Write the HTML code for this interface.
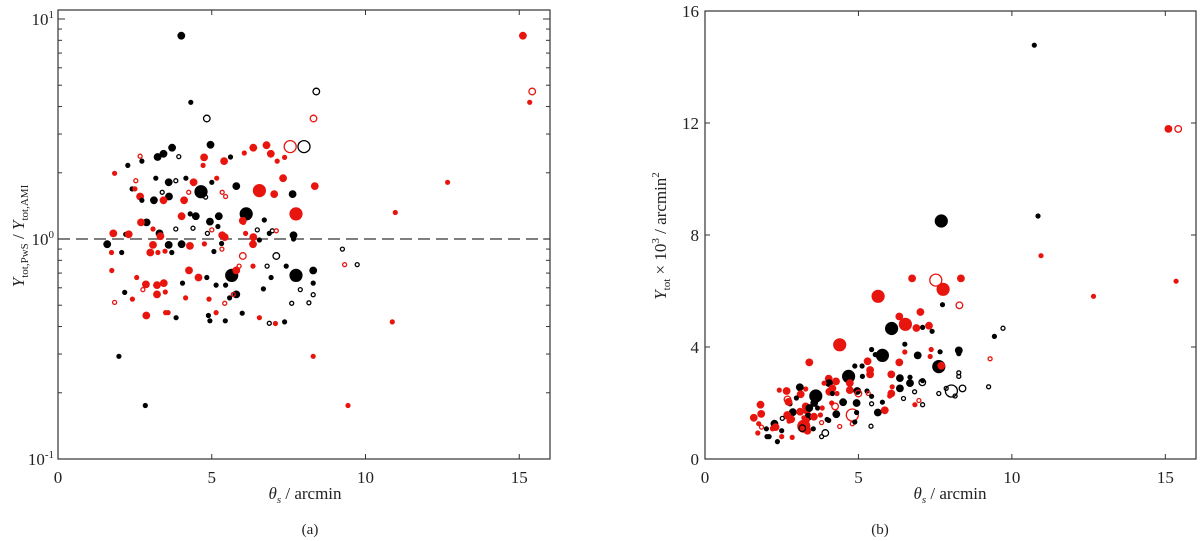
<!DOCTYPE html>
<html><head><meta charset="utf-8"><style>
body{margin:0;background:#fff;width:1200px;height:541px;overflow:hidden}
svg{display:block}
text{font-family:"Liberation Serif",serif;fill:#222}
</style></head><body>
<svg id="fig" width="1200" height="541" viewBox="0 0 1200 541" xmlns="http://www.w3.org/2000/svg"></svg>
<script>
// kinds: s/m/L = small/medium/large filled; so/mo/Lo = open. colors: r red, k black
const leftX=[4.01,4.32,4.84,8.40,8.31,15.12,15.42,15.34,7.55,8.0,6.78,6.35,6.92,6.06,4.96,5.61,5.40,4.75,4.72,7.37,7.13,3.71,3.43,3.24,3.93,2.67,2.73,2.27,1.84,3.18,2.53,2.41,2.5,3.6,3.83,4.16,4.41,4.65,4.80,5.0,5.16,5.34,5.45,5.80,6.55,7.03,7.63,7.32,8.35,12.67,4.25,3.39,3.61,2.67,2.73,3.12,3.43,4.1,6.12,7.74,5.23,4.48,4.30,4.02,4.94,6.01,6.71,10.97,5.2,6.03,2.88,2.70,3.09,1.80,2.2,2.3,3.3,3.33,3.83,4.39,4.86,5.0,5.34,5.42,6.1,6.35,6.48,6.87,6.97,7.1,7.66,7.66,1.60,1.74,2.07,3.0,3.25,3.09,3.6,3.7,3.48,4.02,4.29,4.76,5.07,5.32,5.33,6.34,6.55,9.25,6.01,7.1,9.32,9.73,1.75,2.56,4.26,4.57,4.84,5.65,5.80,5.89,6.34,6.80,6.93,7.42,7.74,8.3,8.3,7.88,8.3,8.16,7.6,6.68,5.8,5.58,5.70,5.45,5.14,4.91,4.05,4.15,5.42,3.49,3.44,3.22,3.22,2.86,2.76,2.17,2.42,1.84,2.87,3.5,3.58,3.84,4.89,5.14,4.94,5.44,5.99,6.55,6.87,7.07,7.37,10.87,1.98,8.3,2.84,9.43];
const leftY=[8.4,4.18,3.53,4.68,3.53,8.4,4.68,4.18,2.63,2.63,2.67,2.6,2.44,2.46,2.68,2.36,2.26,2.35,2.16,2.35,2.26,2.6,2.44,2.36,2.37,2.38,2.26,2.16,1.99,1.89,1.84,1.69,1.69,1.81,1.84,1.89,1.81,1.64,1.55,1.81,1.89,1.63,1.56,1.74,1.66,1.6,1.6,1.89,1.74,1.81,1.63,1.63,1.56,1.56,1.5,1.5,1.5,1.5,1.30,1.30,1.27,1.27,1.30,1.27,1.2,1.21,1.22,1.32,1.14,1.19,1.19,1.19,1.11,1.06,1.05,1.05,1.06,1.03,1.11,1.12,1.06,1.10,1.04,1.02,1.06,1.02,1.10,1.06,1.09,1.09,1.04,1.0,0.947,0.868,0.868,0.868,0.868,0.94,0.94,0.868,0.88,0.947,0.93,0.95,0.877,0.954,0.90,0.947,0.99,0.90,0.837,0.837,0.765,0.765,0.719,0.668,0.72,0.668,0.668,0.683,0.72,0.753,0.753,0.753,0.668,0.753,0.683,0.719,0.63,0.589,0.558,0.513,0.51,0.593,0.56,0.54,0.56,0.617,0.617,0.533,0.63,0.54,0.51,0.574,0.63,0.617,0.56,0.622,0.589,0.572,0.533,0.515,0.449,0.463,0.463,0.439,0.449,0.463,0.425,0.425,0.46,0.439,0.414,0.413,0.42,0.42,0.293,0.293,0.175,0.175];
const leftC="kkkkrrrrrkrrrrkkrrrrrkkkkrkkrkrkrkkkrkkkrrrkrrkrrrrkkrkkrrkrkkkrkrkrkrkrrrkrkrkkkrrrrrkkkrkkkrkrrrkkrkrrkkrrkkrkrkrrrrkkrrrkkkkkkkkkkkkkrkkrkrrrrrrrrkrrrrrkkrkkkrkrkrkrkrk";
const leftK=["m","s","mo","mo","mo","m","mo","s","Lo","Lo","m","m","m","s","m","s","m","m","s","s","s","m","m","m","so","so","s","s","s","s","so","s","s","m","so","s","m","L","so","s","s","so","so","m","L","m","m","m","m","s","so","so","m","m","s","m","m","m","L","L","m","m","s","m","m","m","s","s","s","s","m","m","s","m","s","m","m","m","so","so","so","so","m","m","s","m","so","s","so","so","m","s","m","s","s","m","s","m","m","s","s","m","m","s","s","s","so","m","s","so","mo","mo","so","so","s","s","m","m","s","L","m","so","s","so","s","s","L","m","s","so","so","so","so","s","m","s","so","s","s","s","s","s","so","s","m","m","m","m","so","s","s","so","m","s","s","s","s","s","s","s","s","s","so","s","s","s","s","s","s","s"];

const rightX=[10.73,15.1,15.42,10.85,7.70,10.95,15.35,12.66,6.75,7.52,7.76,8.34,8.29,7.74,5.64,7.02,6.33,6.08,6.53,6.89,7.09,7.3,7.4,9.71,9.43,4.39,5.43,5.55,5.78,6.51,6.51,7.37,7.66,8.27,8.27,6.93,7.34,9.29,3.40,6.33,5.30,4.88,5.12,7.62,7.70,4.68,5.38,5.38,5.13,6.35,6.68,6.07,8.27,8.27,4.03,4.27,4.04,4.72,4.72,4.96,5.0,5.28,5.32,5.43,6.1,6.35,6.68,6.83,7.08,7.09,6.07,6.02,6.47,6.97,7.09,6.84,7.62,8.03,8.15,8.39,9.24,7.86,4.15,4.05,4.3,3.88,4.15,4.5,4.94,4.13,4.24,4.28,4.03,4.8,4.94,4.8,4.88,5.78,5.82,5.63,5.86,5.43,5.41,4.39,3.92,3.8,3.61,3.56,3.67,3.82,3.76,3.8,3.98,3.28,3.09,3.12,2.98,2.77,2.86,3.1,3.28,3.32,3.4,3.37,3.22,3.33,3.55,3.22,3.34,3.53,3.17,2.42,2.66,2.69,2.72,2.68,2.81,2.52,2.74,2.26,2.3,2.2,2.5,2.5,2.36,2.09,2.84,1.81,1.83,1.59,1.75,1.84,1.72,2.0,2.2,2.02,2.67];
const rightY=[14.78,11.79,11.79,8.68,8.50,7.26,6.35,5.81,6.45,6.39,6.06,6.45,5.49,5.51,5.81,5.25,5.09,4.66,4.81,4.68,4.7,4.76,4.56,4.67,4.38,4.08,3.91,3.73,3.70,4.10,3.82,3.91,3.83,3.88,3.76,3.70,3.66,3.58,3.45,3.45,3.49,3.32,3.32,3.30,3.33,2.95,3.18,3.02,2.95,2.89,2.92,3.02,3.08,2.95,2.87,2.77,2.71,2.71,2.46,2.43,2.34,2.43,2.34,2.24,2.58,2.52,2.71,2.4,2.74,2.8,2.34,2.25,2.16,2.09,1.94,1.94,2.34,2.43,2.25,2.52,2.58,2.52,2.52,2.4,2.34,2.71,2.34,2.03,2.0,2.0,1.88,1.6,1.38,1.57,1.66,1.26,1.32,2.03,1.72,1.66,1.74,1.97,1.17,1.16,0.93,0.8,2.25,2.0,1.82,1.82,1.57,1.3,1.41,2.5,2.56,2.31,2.18,1.97,1.67,1.69,1.88,1.72,1.82,1.51,1.47,1.38,1.51,1.17,1.01,1.08,1.1,2.46,2.43,2.13,2.04,1.57,1.42,1.45,1.35,1.26,1.14,1.1,1.01,0.8,0.62,0.8,0.77,1.94,1.61,1.47,1.26,1.14,0.93,1.08,1.08,0.8,1.5];
const rightC="krrkkrrrrrrrrkrrrkrrkrkkkrkkkkrrkkkkrrrrrkkkrkrrkkkrkkrrkrrkrkrkrkkkkkrrkrkrkkkkkkrrrrkkkrrkkrkrkkrkrkkrkkkkkrrrkrkrkkkrrrkkrrrrrkkrrrrrrkrkrrkrkkrrrrrrrkrkrr";
const rightK=["s","m","mo","s","L","s","s","s","m","Lo","L","m","mo","s","L","m","m","L","L","m","s","m","s","so","s","L","s","s","L","s","s","s","s","m","s","m","s","so","m","m","m","s","s","L","m","L","m","m","s","m","s","m","so","so","m","m","m","m","m","m","mo","s","so","s","s","m","m","so","mo","s","m","s","so","so","so","s","so","Lo","so","mo","so","so","m","m","s","s","s","m","m","s","mo","m","s","Lo","s","so","s","s","s","m","m","so","so","so","mo","so","L","m","s","s","s","so","s","s","m","m","s","s","m","m","m","m","m","m","s","s","m","L","m","s","mo","s","m","mo","m","m","m","so","s","m","m","s","s","s","s","s","s","m","m","m","s","so","s","s","s","s","s"];

const xTicks=[0,5,10,15];
const rightYTicks=[0,4,8,12,16];
const leftYDecades=[-1,0,1];

const svg=document.getElementById('fig');
const NS='http://www.w3.org/2000/svg';
function mk(tag,attrs,parent){const e=document.createElementNS(NS,tag);for(const k in attrs)e.setAttribute(k,attrs[k]);(parent||svg).appendChild(e);return e;}
const R={s:2.6,m:3.9,L:6.6};
function drawPoints(g,xs,ys,cs,ks,sx,sy,name){
  for(let i=0;i<xs.length;i++){
    const k=ks[i]||'s',open=k.endsWith('o'),sz=R[k[0]];
    const col=cs[i]==='r'?'#e8150f':'#000';
    const c=mk('circle',{cx:sx(xs[i]).toFixed(1),cy:sy(ys[i]).toFixed(1),r:open?sz-0.6:sz,fill:open?'none':col,stroke:open?col:'none','stroke-width':open?1.3:0},g);
    
    
  }
}
function frame(g,x0,x1,y0,y1){
  const r=mk('rect',{x:x0,y:y0,width:x1-x0,height:y1-y0,fill:'none',stroke:'#333','stroke-width':1.2},g);
  
  
}
// LEFT
const L={x0:58,x1:550,y0:10,y1:459};
const lsx=v=>L.x0+v/16*(L.x1-L.x0);
const lsy=v=>239-Math.log10(v)*220;
const gl=mk('g',{});


frame(gl,L.x0,L.x1,L.y0,L.y1);
xTicks.forEach(t=>{const x=lsx(t);
  mk('line',{x1:x,x2:x,y1:L.y1,y2:L.y1-5,stroke:'#333'},gl);mk('line',{x1:x,x2:x,y1:L.y0,y2:L.y0+5,stroke:'#333'},gl);
  const tx=mk('text',{x:x,y:483,'font-size':17,'text-anchor':'middle'},gl);tx.textContent=t;
  
  });
leftYDecades.forEach(d=>{const y=lsy(Math.pow(10,d));
  mk('line',{x1:L.x0,x2:L.x0+7,y1:y,y2:y,stroke:'#333'},gl);mk('line',{x1:L.x1,x2:L.x1-7,y1:y,y2:y,stroke:'#333'},gl);
  const tx=mk('text',{x:L.x0-4,y:y+6,'font-size':17,'text-anchor':'end'},gl);tx.innerHTML='10<tspan dy="-7" font-size="11">'+d+'</tspan>';
  
  
  if(d<1)for(let m=2;m<10;m++){const yy=lsy(m*Math.pow(10,d));if(yy<L.y0)continue;
    mk('line',{x1:L.x0,x2:L.x0+4,y1:yy,y2:yy,stroke:'#333'},gl);mk('line',{x1:L.x1,x2:L.x1-4,y1:yy,y2:yy,stroke:'#333'},gl);}
});
const dl=mk('line',{x1:L.x0,x2:L.x1,y1:lsy(1),y2:lsy(1),stroke:'#333','stroke-width':1.2,'stroke-dasharray':'12,6'},gl);


drawPoints(gl,leftX,leftY,leftC,leftK,lsx,lsy,'ratio-point');
// RIGHT
const Rr={x0:705,x1:1196,y0:11,y1:459};
const rsx=v=>Rr.x0+v/16*(Rr.x1-Rr.x0);
const rsy=v=>Rr.y1-v/16*(Rr.y1-Rr.y0);
const gr=mk('g',{});


frame(gr,Rr.x0,Rr.x1,Rr.y0,Rr.y1);
xTicks.forEach(t=>{const x=rsx(t);
  mk('line',{x1:x,x2:x,y1:Rr.y1,y2:Rr.y1-5,stroke:'#333'},gr);mk('line',{x1:x,x2:x,y1:Rr.y0,y2:Rr.y0+5,stroke:'#333'},gr);
  const tx=mk('text',{x:x,y:483,'font-size':17,'text-anchor':'middle'},gr);tx.textContent=t;
  
  });
rightYTicks.forEach(t=>{const y=rsy(t);
  mk('line',{x1:Rr.x0,x2:Rr.x0+5,y1:y,y2:y,stroke:'#333'},gr);mk('line',{x1:Rr.x1,x2:Rr.x1-5,y1:y,y2:y,stroke:'#333'},gr);
  const tx=mk('text',{x:Rr.x0-6,y:y+6,'font-size':17,'text-anchor':'end'},gr);tx.textContent=t;
  
  });
drawPoints(gr,rightX,rightY,rightC,rightK,rsx,rsy,'ytot-point');
</script>
<svg width="0" height="0"></svg>
<div style="position:absolute;left:0;top:0;width:1200px;height:541px;pointer-events:none">
<svg width="1200" height="541" style="position:absolute;left:0;top:0">
<text transform="translate(24,236) rotate(-90)" font-size="17" text-anchor="middle" style="font-family:'Liberation Serif',serif"><tspan font-style="italic">Y</tspan><tspan font-size="11" dy="4">tot,PwS</tspan><tspan dy="-4"> / </tspan><tspan font-style="italic">Y</tspan><tspan font-size="11" dy="4">tot,AMI</tspan></text>
<text transform="translate(666,236) rotate(-90)" font-size="17" text-anchor="middle" style="font-family:'Liberation Serif',serif"><tspan font-style="italic">Y</tspan><tspan font-size="11" dy="4">tot</tspan><tspan dy="-4"> × 10</tspan><tspan font-size="11" dy="-7">3</tspan><tspan dy="7"> / arcmin</tspan><tspan font-size="11" dy="-7">2</tspan></text>
<text x="305" y="499" font-size="17" text-anchor="middle" style="font-family:'Liberation Serif',serif"><tspan font-style="italic">θ</tspan><tspan font-style="italic" font-size="11" dy="4">s</tspan><tspan dy="-4"> / arcmin</tspan></text>
<text x="950" y="499" font-size="17" text-anchor="middle" style="font-family:'Liberation Serif',serif"><tspan font-style="italic">θ</tspan><tspan font-style="italic" font-size="11" dy="4">s</tspan><tspan dy="-4"> / arcmin</tspan></text>
<text x="310" y="534" font-size="15" text-anchor="middle" style="font-family:'Liberation Serif',serif">(a)</text>
<text x="880" y="534" font-size="15" text-anchor="middle" style="font-family:'Liberation Serif',serif">(b)</text>
</svg></div>
</body></html>
